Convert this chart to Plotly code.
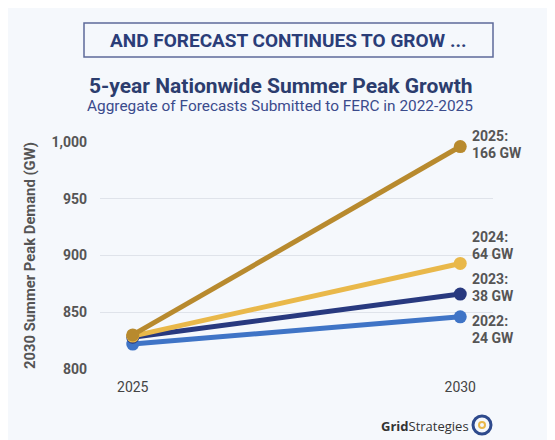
import plotly.graph_objects as go

years = [2025, 2030]
series_names = ["2022", "2023", "2024", "2025"]
values_2022 = [822, 846]
values_2023 = [828, 866]
values_2024 = [829, 893]
values_2025 = [830, 996]
growth_labels = ["24 GW", "38 GW", "64 GW", "166 GW"]
y_ticks = [800, 850, 900, 950, 1000]
y_tick_labels = ["800", "850", "900", "950", "1,000"]

all_values = [values_2022, values_2023, values_2024, values_2025]
colors = ["#3f74c6", "#28397f", "#e9b84a", "#b88a2e"]
# vertical offset (px, positive = up) of each label block centre from its end marker
label_center_shift = [-12.5, 6.5, 18, 2]
LINE_GAP = 16.5

BG = "#f5f8fc"
# page has an 8px body margin; layout coordinates below use reference pixels
PL, PB, PH, PW = 100, 369, 227, 393


def px(x):
    return (x - PL) / PW


def py(y):
    return (PB - y) / PH


fig = go.Figure()
for name, vals, col in zip(series_names, all_values, colors):
    fig.add_trace(go.Scatter(
        x=years, y=vals, mode="lines+markers", name=name,
        line=dict(color=col, width=5),
        marker=dict(color=col, size=13),
        showlegend=False, cliponaxis=False,
    ))

for name, vals, lab, cs in zip(series_names, all_values, growth_labels, label_center_shift):
    for txt, off in ((f"<b>{name}:</b>", LINE_GAP / 2), (f"<b>{lab}</b>", -LINE_GAP / 2)):
        fig.add_annotation(
            x=years[1], y=vals[1], xref="x", yref="y",
            text=txt, showarrow=False,
            xanchor="left", yanchor="middle", align="left",
            xshift=10, yshift=cs + off,
            font=dict(family="Roboto", size=14, color="#555555"),
        )

# header box
fig.add_shape(type="rect", xref="paper", yref="paper",
              x0=px(84), x1=px(493), y0=py(57), y1=py(23),
              line=dict(color="#5d6a99", width=1.5), fillcolor="rgba(0,0,0,0)")
fig.add_annotation(text="<b>AND FORECAST CONTINUES TO GROW ...</b>",
                   xref="paper", yref="paper", x=px(288), y=py(40),
                   xanchor="center", yanchor="middle",
                   showarrow=False, font=dict(family="Roboto", size=19, color="#2b3d78"))
fig.add_annotation(text="<b>5-year Nationwide Summer Peak Growth</b>",
                   xref="paper", yref="paper", x=px(281), y=py(86),
                   xanchor="center", yanchor="middle",
                   showarrow=False, font=dict(family="Roboto", size=21, color="#2c3d6e"))
fig.add_annotation(text="Aggregate of Forecasts Submitted to FERC in 2022-2025",
                   xref="paper", yref="paper", x=px(280), y=py(106),
                   xanchor="center", yanchor="middle",
                   showarrow=False, font=dict(family="Roboto", size=15.4, color="#3b4b8c"))
# logo
fig.add_annotation(text="<b>Grid</b>Strategies",
                   xref="paper", yref="paper", x=px(471), y=py(426),
                   xanchor="right", yanchor="middle", showarrow=False,
                   font=dict(family="Open Sans", size=13, color="#333333"))
fig.add_shape(type="circle", xref="paper", yref="paper",
              x0=px(473), x1=px(491), y0=py(434), y1=py(416),
              line=dict(color="#2e4a8c", width=3), fillcolor="rgba(0,0,0,0)")
fig.add_shape(type="circle", xref="paper", yref="paper",
              x0=px(479), x1=px(485), y0=py(428), y1=py(422),
              line=dict(color="#e9b84a", width=2), fillcolor="rgba(0,0,0,0)")

fig.update_layout(
    width=547, height=432,
    margin=dict(l=92, r=62, t=134, b=71),
    paper_bgcolor=BG, plot_bgcolor=BG,
    font=dict(family="Roboto", color="#555555"),
    xaxis=dict(range=[2024.5, 2030.5], tickvals=years, ticktext=[str(y) for y in years],
               showgrid=False, zeroline=False, showline=False,
               tickfont=dict(size=14, color="#444444"), ticks="", ticklabelstandoff=8),
    yaxis=dict(range=[800, 1000], tickvals=y_ticks, ticktext=[f"<b>{t}</b>" for t in y_tick_labels],
               showgrid=True, gridcolor="#dfe3ea", gridwidth=1, zeroline=False,
               tickfont=dict(size=14, color="#555555"), ticks="", ticklabelstandoff=12,
               title=dict(text="<b>2030 Summer Peak Demand (GW)</b>",
                          font=dict(size=14.8, color="#555555"), standoff=12)),
)

fig.write_html("out.html")
